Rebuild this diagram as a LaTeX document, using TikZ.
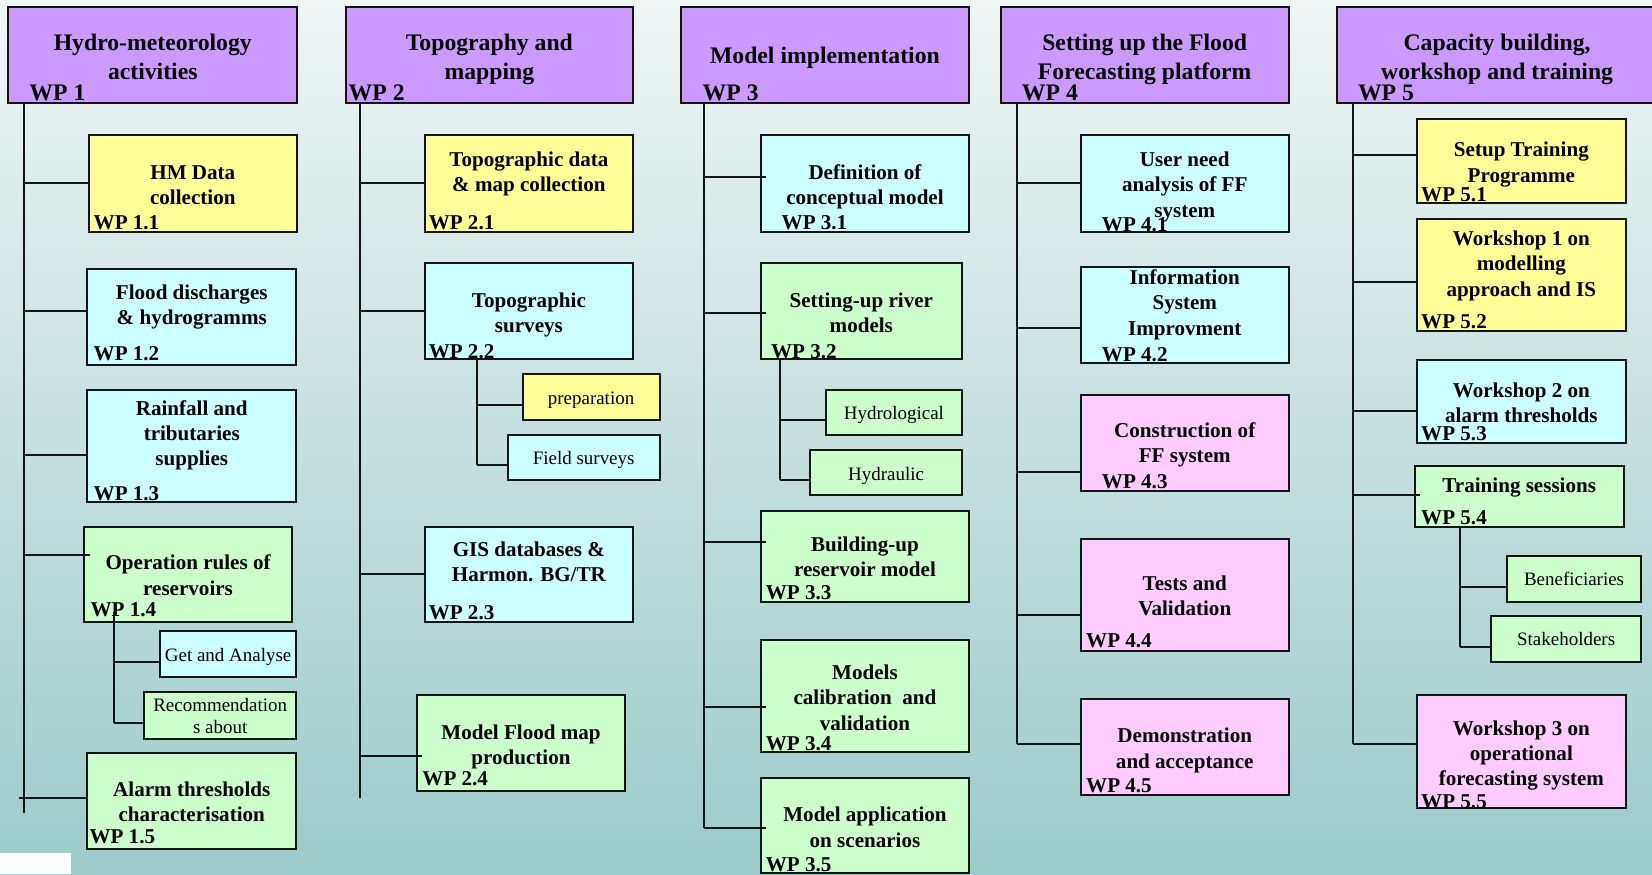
\documentclass[tikz,border=0pt]{standalone}
\usepackage{fontspec}
\setmainfont{Liberation Serif}
\definecolor{bgtop}{HTML}{EFF6F5}
\definecolor{bgbot}{HTML}{9CCBCA}
\definecolor{wphead}{HTML}{CC99FF}
\definecolor{wpyel}{HTML}{FFFF99}
\definecolor{wpcyan}{HTML}{CCFFFF}
\definecolor{wpgreen}{HTML}{CCFFCC}
\definecolor{wppink}{HTML}{FFCCFF}
\definecolor{ink}{HTML}{141414}

% box: name, x1, y1, x2, y2, fill
\newcommand{\wpbox}[6]{\node[wpframe, fill=#6, minimum width={#4-#2}, minimum height={#5-#3}] (#1) at ({(#2+#4)/2},{(#3+#5)/2}) {};}
% centred text: box name, baseline of the last line, style, text
\newcommand{\wptext}[4]{\node[#3] (#1-t) at (#1.center |- 0,#2) {#4};}
% work package number: box name, x, baseline, style, text
\newcommand{\wpnum}[5]{\node[#4] (#1-n) at (#2,#3) {#5};}
% branch from a trunk to a box at height y
\newcommand{\branch}[4][]{\path (0,#3) coordinate (yb); \draw[#1] (#2 |- yb) -- (#4.west |- yb);}

\tikzset{
  wpframe/.style={rectangle, draw=ink, line width=1.9pt, inner sep=0pt, outer sep=0pt},
  wptitle/.style={font=\fontsize{22.5}{27.5}\selectfont\bfseries, align=center, anchor=base, inner sep=0pt},
  wpbody/.style={font=\fontsize{20}{24}\selectfont\bfseries, align=center, anchor=base, inner sep=0pt},
  wpsmall/.style={font=\fontsize{18}{21}\selectfont, align=center, anchor=base, inner sep=0pt},
  wphtag/.style={font=\fontsize{22.5}{27}\selectfont\bfseries, anchor=base west, inner sep=0pt},
  wptag/.style={font=\fontsize{20}{24}\selectfont\bfseries, anchor=base west, inner sep=0pt},
  into/.style={shorten >=-5pt},
}

\begin{document}
\begin{tikzpicture}[x=1pt, y=-1pt, line width=1.9pt, draw=ink]
\useasboundingbox (0,0) rectangle (1568,830);
\shade[top color=bgtop, bottom color=bgbot] (0,0) rectangle (1568,830);
\fill[white] (0,810) rectangle (67,830);

% ---------------- headers ----------------
\wpbox{h1}{8}{7}{282}{98}{wphead}
\wpbox{h2}{328}{7}{601}{98}{wphead}
\wpbox{h3}{646}{7}{920}{98}{wphead}
\wpbox{h4}{950}{7}{1223}{98}{wphead}
\wpbox{h5}{1269}{7}{1573}{98}{wphead}
\wptext{h1}{75}{wptitle}{Hydro-meteorology\\activities}
\wptext{h2}{75}{wptitle}{Topography and\\mapping}
\wptext{h3}{60.5}{wptitle}{Model implementation}
\wptext{h4}{75}{wptitle}{Setting up the Flood\\Forecasting platform}
\node[wptitle] (h5-t) at (1421,75) {Capacity building,\\workshop and training};
\wpnum{h1}{27}{95}{wphtag}{WP 1}
\wpnum{h2}{330}{95}{wphtag}{WP 2}
\wpnum{h3}{666}{95}{wphtag}{WP 3}
\wpnum{h4}{969}{95}{wphtag}{WP 4}
\wpnum{h5}{1288}{95}{wphtag}{WP 5}

% ---------------- WP 1 ----------------
\wpbox{b11}{84}{128}{282}{220}{wpyel}
\wptext{b11}{194}{wpbody}{HM Data\\collection}
\wpnum{b11}{88}{218}{wptag}{WP 1.1}

\wpbox{b12}{83}{255}{281}{346}{wpcyan}
\wptext{b12}{308}{wpbody}{Flood discharges\\\& hydrogramms}
\wpnum{b12}{88}{342}{wptag}{WP 1.2}

\wpbox{b13}{83}{370}{281}{476}{wpcyan}
\wptext{b13}{442}{wpbody}{Rainfall and\\tributaries\\supplies}
\wpnum{b13}{88}{475}{wptag}{WP 1.3}

\wpbox{b14}{80}{500}{277}{590}{wpgreen}
\wptext{b14}{565}{wpbody}{Operation rules of\\reservoirs}
\wpnum{b14}{85}{585}{wptag}{WP 1.4}

\wpbox{g14a}{152}{599}{281}{643}{wpcyan}
\wptext{g14a}{628}{wpsmall}{Get and Analyse}
\wpbox{g14b}{137}{657}{281}{701}{wpgreen}
\wptext{g14b}{696}{wpsmall}{Recommendation\\s about}

\wpbox{b15}{83}{715}{281}{806}{wpgreen}
\wptext{b15}{780}{wpbody}{Alarm thresholds\\characterisation}
\wpnum{b15}{84}{801}{wptag}{WP 1.5}

% ---------------- WP 2 ----------------
\wpbox{b21}{403}{128}{601}{220}{wpyel}
\wptext{b21}{182}{wpbody}{Topographic data\\\& map collection}
\wpnum{b21}{406}{218}{wptag}{WP 2.1}

\wpbox{b22}{403}{250}{601}{341}{wpcyan}
\wptext{b22}{316}{wpbody}{Topographic\\surveys}
\wpnum{b22}{406}{340}{wptag}{WP 2.2}

\wpbox{g22a}{496}{355}{626}{399}{wpyel}
\wptext{g22a}{384}{wpsmall}{preparation}
\wpbox{g22b}{482}{413}{626}{456}{wpcyan}
\wptext{g22b}{441}{wpsmall}{Field surveys}

\wpbox{b23}{403}{500}{601}{590}{wpcyan}
\wptext{b23}{552}{wpbody}{GIS databases \&\\Harmon. BG/TR}
\wpnum{b23}{406}{588}{wptag}{WP 2.3}

\wpbox{b24}{396}{660}{593}{751}{wpgreen}
\wptext{b24}{726}{wpbody}{Model Flood map\\production}
\wpnum{b24}{400}{746}{wptag}{WP 2.4}

% ---------------- WP 3 ----------------
\wpbox{b31}{722}{128}{920}{220}{wpcyan}
\wptext{b31}{194}{wpbody}{Definition of\\conceptual model}
\wpnum{b31}{741}{218}{wptag}{WP 3.1}

\wpbox{b32}{722}{250}{913}{341}{wpgreen}
\wptext{b32}{316}{wpbody}{Setting-up river\\models}
\wpnum{b32}{731}{340}{wptag}{WP 3.2}

\wpbox{g32a}{784}{370}{913}{413}{wpgreen}
\wptext{g32a}{398}{wpsmall}{Hydrological}
\wpbox{g32b}{769}{427}{913}{470}{wpgreen}
\wptext{g32b}{456}{wpsmall}{Hydraulic}

\wpbox{b33}{722}{485}{920}{571}{wpgreen}
\wptext{b33}{547}{wpbody}{Building-up\\reservoir model}
\wpnum{b33}{726}{569}{wptag}{WP 3.3}

\wpbox{b34}{722}{607}{920}{714}{wpgreen}
\wptext{b34}{693}{wpbody}{Models\\calibration~ and\\validation}
\wpnum{b34}{726}{712}{wptag}{WP 3.4}

\wpbox{b35}{722}{738}{920}{829}{wpgreen}
\wptext{b35}{804}{wpbody}{Model application\\on scenarios}
\wpnum{b35}{726}{827}{wptag}{WP 3.5}

% ---------------- WP 4 ----------------
\wpbox{b41}{1026}{128}{1223}{220}{wpcyan}
\wptext{b41}{206}{wpbody}{User need\\analysis of FF\\system}
\wpnum{b41}{1045}{220}{wptag}{WP 4.1}

\wpbox{b42}{1026}{253}{1223}{345}{wpcyan}
\wptext{b42}{318}{wpbody}{Information\\System\\Improvment}
\wpnum{b42}{1045}{343}{wptag}{WP 4.2}

\wpbox{b43}{1026}{375}{1223}{466}{wppink}
\wptext{b43}{439}{wpbody}{Construction of\\FF system}
\wpnum{b43}{1045}{464}{wptag}{WP 4.3}

\wpbox{b44}{1026}{512}{1223}{618}{wppink}
\wptext{b44}{584}{wpbody}{Tests and\\Validation}
\wpnum{b44}{1030}{615}{wptag}{WP 4.4}

\wpbox{b45}{1026}{663}{1223}{755}{wppink}
\wptext{b45}{729}{wpbody}{Demonstration\\and acceptance}
\wpnum{b45}{1030}{752}{wptag}{WP 4.5}

% ---------------- WP 5 ----------------
\wpbox{b51}{1345}{113}{1543}{193}{wpyel}
\wptext{b51}{173}{wpbody}{Setup Training\\Programme}
\wpnum{b51}{1348}{191}{wptag}{WP 5.1}

\wpbox{b52}{1345}{208}{1543}{314}{wpyel}
\wptext{b52}{281}{wpbody}{Workshop 1 on\\modelling\\approach and IS}
\wpnum{b52}{1348}{312}{wptag}{WP 5.2}

\wpbox{b53}{1345}{342}{1543}{420}{wpcyan}
\wptext{b53}{401}{wpbody}{Workshop 2 on\\alarm thresholds}
\wpnum{b53}{1348}{418}{wptag}{WP 5.3}

\wpbox{b54}{1343}{442}{1541}{500}{wpgreen}
\wptext{b54}{467}{wpbody}{Training sessions}
\wpnum{b54}{1348}{498}{wptag}{WP 5.4}

\wpbox{g54a}{1430}{528}{1558}{571}{wpgreen}
\wptext{g54a}{556}{wpsmall}{Beneficiaries}
\wpbox{g54b}{1415}{585}{1558}{628}{wpgreen}
\wptext{g54b}{613}{wpsmall}{Stakeholders}

\wpbox{b55}{1345}{660}{1543}{767}{wppink}
\wptext{b55}{746}{wpbody}{Workshop 3 on\\operational\\forecasting system}
\wpnum{b55}{1348}{767}{wptag}{WP 5.5}

% ---------------- trunks ----------------
\coordinate (t1) at (23,98);   \coordinate (t1e) at (23,772);
\coordinate (t2) at (342,98);  \coordinate (t2e) at (342,757);
\coordinate (t3) at (668,98);  \coordinate (t3e) at (668,786);
\coordinate (t4) at (965,98);  \coordinate (t4e) at (965,706);
\coordinate (t5) at (1284,98); \coordinate (t5e) at (1284,706);
\draw (t1) -- (t1e);
\draw (t2) -- (t2e);
\draw (t3) -- (t3e);
\draw (t4) -- (t4e);
\draw (t5) -- (t5e);

% sub-trunks below the parent boxes
\coordinate (s14) at (108,581); \coordinate (s14e) at (108,686);
\coordinate (s22) at (453,341); \coordinate (s22e) at (453,441);
\coordinate (s32) at (740,341); \coordinate (s32e) at (740,456);
\coordinate (s54) at (1386,500); \coordinate (s54e) at (1386,614);
\draw (s14) -- (s14e);
\draw (s22) -- (s22e);
\draw (s32) -- (s32e);
\draw (s54) -- (s54e);

% ---------------- branches ----------------
\branch{t1}{174}{b11}
\branch{t1}{295}{b12}
\branch{t1}{432}{b13}
\branch[into]{t1}{527}{b14}
\coordinate (t1x) at (18,757);
\branch{t1x}{757}{b15}
\branch{s14}{628}{g14a}
\branch{s14}{686}{g14b}

\branch{t2}{174}{b21}
\branch{t2}{295}{b22}
\branch{t2}{545}{b23}
\branch[into]{t2}{718}{b24}
\branch{s22}{384}{g22a}
\branch{s22}{441}{g22b}

\branch[into]{t3}{168}{b31}
\branch[into]{t3}{297}{b32}
\branch[into]{t3}{514}{b33}
\branch[into]{t3}{671}{b34}
\branch[into]{t3}{786}{b35}
\branch{s32}{399}{g32a}
\branch{s32}{456}{g32b}

\branch{t4}{174}{b41}
\branch{t4}{311}{b42}
\branch{t4}{448}{b43}
\branch{t4}{584}{b44}
\branch{t4}{706}{b45}

\branch{t5}{147}{b51}
\branch{t5}{268}{b52}
\branch{t5}{390}{b53}
\branch[into]{t5}{470}{b54}
\branch{t5}{706}{b55}
\branch{s54}{557}{g54a}
\branch{s54}{614}{g54b}
\end{tikzpicture}
\end{document}
